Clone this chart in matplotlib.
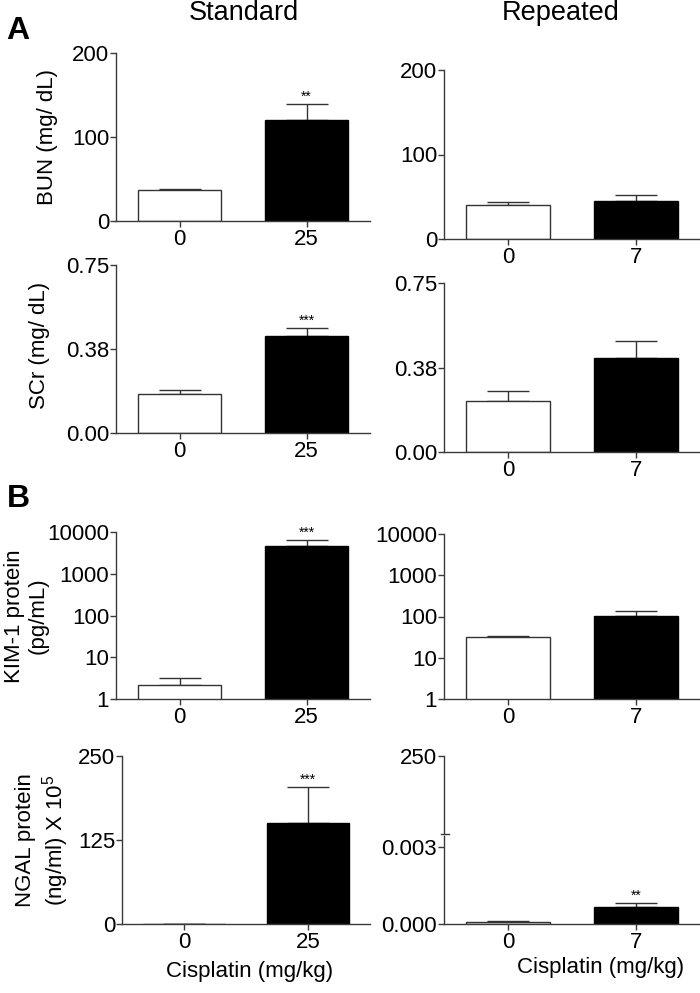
import matplotlib
matplotlib.use("Agg")
import matplotlib.pyplot as plt
import numpy as np

plt.rcParams['font.family'] = ['Liberation Sans', 'DejaVu Sans']
plt.rcParams['mathtext.default'] = 'regular'

# doses
doses_std = ['0', '25']
doses_rep = ['0', '7']

# BUN (mg/dL)
bun_std = [36.6, 119.7]
bun_std_err = [1.6, 19.5]
bun_rep = [40.2, 44.9]
bun_rep_err = [3.5, 6.7]

# SCr (mg/dL)
scr_std = [0.175, 0.431]
scr_std_err = [0.017, 0.037]
scr_rep = [0.226, 0.416]
scr_rep_err = [0.043, 0.076]

# KIM-1 (pg/mL)
kim_std = [2.13, 4540]
kim_std_err = [1.05, 2010]
kim_rep = [31.8, 101]
kim_rep_err = [1.9, 37]

# NGAL (ng/ml x 10^5)
ngal_std = [0, 150]
ngal_std_err = [0, 54]
ngal_rep = [0.000077, 0.000644]
ngal_rep_err = [0.000026, 0.000167]

FIG_W, FIG_H = 700, 993
TICK_FS = 16
LABEL_FS = 16
SPINE = '#3a3a3a'


def px_axes(fig, left, top, right, bottom):
    # place axes using pixel coordinates of the reference
    return fig.add_axes([left / FIG_W, 1 - bottom / FIG_H,
                         (right - left) / FIG_W, (bottom - top) / FIG_H])


def style(ax):
    for s in ['top', 'right']:
        ax.spines[s].set_visible(False)
    for s in ['left', 'bottom']:
        ax.spines[s].set_color(SPINE)
        ax.spines[s].set_linewidth(1.0)
    ax.tick_params(axis='both', colors=SPINE, labelcolor='black', labelsize=TICK_FS,
                   length=4, width=1.0)
    ax.tick_params(axis='y', pad=1)
    ax.tick_params(axis='x', pad=2)
    ax.set_xlim(-0.5, 1.5)


def bars(ax, labels, vals, errs, stars=None):
    x = np.arange(len(vals))
    ax.bar(x, vals, width=0.66, color=['white', 'black'],
           edgecolor=['#333333', 'black'], linewidth=1.0, zorder=2)
    ax.errorbar(x, vals, yerr=[np.zeros(len(errs)), errs], fmt='none',
                ecolor='#333333', elinewidth=1.0, capsize=15, capthick=1.0, zorder=1)
    ax.set_xticks(x)
    ax.set_xticklabels(labels)
    if stars:
        i = 1
        ax.annotate(stars, (x[i], vals[i] + errs[i]), xytext=(0, 0),
                    textcoords='offset points', ha='center', va='bottom', fontsize=10)


fig = plt.figure(figsize=(7, 9.93), dpi=100)

# row 1: BUN
ax = px_axes(fig, 116, 53, 370, 221)
style(ax)
bars(ax, doses_std, bun_std, bun_std_err, '**')
ax.set_ylim(0, 200)
ax.set_yticks([0, 100, 200])

ax = px_axes(fig, 444, 70, 700, 239)
style(ax)
bars(ax, doses_rep, bun_rep, bun_rep_err)
ax.set_ylim(0, 200)
ax.set_yticks([0, 100, 200])

# row 2: SCr
ax = px_axes(fig, 116, 265, 370, 433)
style(ax)
bars(ax, doses_std, scr_std, scr_std_err, '***')
ax.set_ylim(0, 0.75)
ax.set_yticks([0, 0.375, 0.75])
ax.set_yticklabels(['0.00', '0.38', '0.75'])

ax = px_axes(fig, 444, 283, 700, 452)
style(ax)
bars(ax, doses_rep, scr_rep, scr_rep_err)
ax.set_ylim(0, 0.75)
ax.set_yticks([0, 0.375, 0.75])
ax.set_yticklabels(['0.00', '0.38', '0.75'])

# row 3: KIM-1 (log)
kim_ticks = [1, 10, 100, 1000, 10000]
ax = px_axes(fig, 116, 532, 370, 699)
style(ax)
ax.set_yscale('log')
bars(ax, doses_std, kim_std, kim_std_err, '***')
ax.set_ylim(1, 10000)
ax.set_yticks(kim_ticks)
ax.set_yticklabels([str(t) for t in kim_ticks])
ax.yaxis.set_minor_locator(matplotlib.ticker.NullLocator())

ax = px_axes(fig, 444, 534, 700, 699)
style(ax)
ax.set_yscale('log')
bars(ax, doses_rep, kim_rep, kim_rep_err)
ax.set_ylim(1, 10000)
ax.set_yticks(kim_ticks)
ax.set_yticklabels([str(t) for t in kim_ticks])
ax.yaxis.set_minor_locator(matplotlib.ticker.NullLocator())

# row 4: NGAL
ax = px_axes(fig, 122, 756, 370, 924)
style(ax)
bars(ax, doses_std, ngal_std, ngal_std_err, '***')
ax.set_ylim(0, 250)
ax.set_yticks([0, 125, 250])
ax.set_xlabel('Cisplatin (mg/kg)', fontsize=LABEL_FS)
ax.xaxis.set_label_coords(0.516, -0.22)

# broken axis on the repeated NGAL panel
lo = px_axes(fig, 444, 836, 700, 924)
style(lo)
bars(lo, doses_rep, ngal_rep, ngal_rep_err, '**')
lo.set_ylim(0, 0.00343)
lo.set_yticks([0, 0.003])
lo.set_yticklabels(['0.000', '0.003'])
lo.set_xlabel('Cisplatin (mg/kg)', fontsize=LABEL_FS)
lo.xaxis.set_label_coords(0.61, -0.38)

hi = px_axes(fig, 444, 756, 700, 834)
style(hi)
hi.spines['bottom'].set_visible(False)
hi.set_xticks([])
hi.set_ylim(0.0035, 250)
hi.set_yticks([250])
hi.plot([-0.012, 0.02], [0, 0], transform=hi.transAxes, color=SPINE,
        lw=1.0, clip_on=False)

# y labels
fig.text(47 / FIG_W, 1 - 137 / FIG_H, 'BUN (mg/ dL)', rotation=90,
         ha='center', va='center', fontsize=LABEL_FS)
fig.text(40 / FIG_W, 1 - 345 / FIG_H, 'SCr (mg/ dL)', rotation=90,
         ha='center', va='center', fontsize=LABEL_FS)
fig.text(26 / FIG_W, 1 - 616 / FIG_H, 'KIM-1 protein\n(pg/mL)', rotation=90,
         ha='center', va='center', fontsize=LABEL_FS, multialignment='center',
         linespacing=1.15)
fig.text(43 / FIG_W, 1 - 840 / FIG_H, 'NGAL protein\n(ng/ml) X 10$^{5}$', rotation=90,
         ha='center', va='center', fontsize=LABEL_FS, multialignment='center',
         linespacing=1.15)

# column titles and panel letters
fig.text(244 / FIG_W, 1 - 13 / FIG_H, 'Standard', ha='center', va='center', fontsize=19.5)
fig.text(561 / FIG_W, 1 - 13 / FIG_H, 'Repeated', ha='center', va='center', fontsize=19.5)
fig.text(18 / FIG_W, 1 - 31 / FIG_H, 'A', ha='center', va='center', fontsize=23,
         fontweight='bold')
fig.text(18 / FIG_W, 1 - 499 / FIG_H, 'B', ha='center', va='center', fontsize=23,
         fontweight='bold')

fig.savefig('out.png', dpi=100)
